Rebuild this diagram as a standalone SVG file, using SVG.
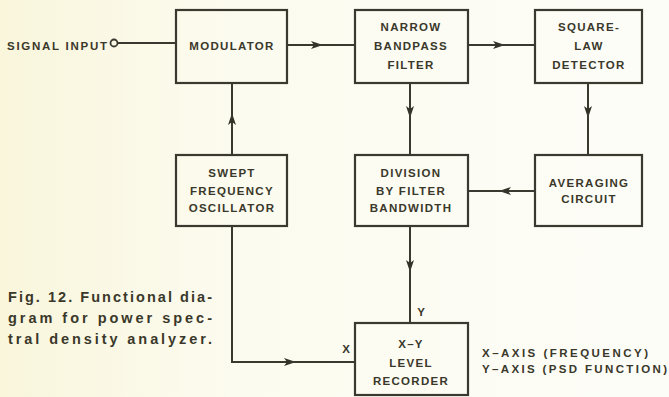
<svg xmlns="http://www.w3.org/2000/svg" width="669" height="397" viewBox="0 0 669 397">
<defs>
<linearGradient id="bg" x1="0" y1="0" x2="1" y2="0">
<stop offset="0" stop-color="#f9f6dc"/>
<stop offset="0.35" stop-color="#fcfbef"/>
<stop offset="1" stop-color="#fdfdf8"/>
</linearGradient>
<marker id="ah" viewBox="0 0 12 8" refX="10" refY="4" markerWidth="12" markerHeight="8" markerUnits="userSpaceOnUse" orient="auto">
<path d="M0,0 L12,4 L0,8 L3,4 Z" fill="#34332a"/>
</marker>
<style>
.box{fill:none;stroke:#3a392f;stroke-width:2.2}
.ln{fill:none;stroke:#3a392f;stroke-width:2}
.t{font-family:"Liberation Sans",Arial,sans-serif;font-weight:bold;font-size:11.5px;fill:#3a382a;text-anchor:middle;letter-spacing:1.3px}
.cap{font-family:"Liberation Sans",Arial,sans-serif;font-weight:bold;font-size:14.5px;fill:#3a382a}
.lab{font-family:"Liberation Sans",Arial,sans-serif;font-weight:bold;font-size:11.5px;fill:#3a382a}
</style>
</defs>
<rect width="669" height="397" fill="url(#bg)"/>

<g id="signal-input">
<text class="lab" x="7" y="50" textLength="100" lengthAdjust="spacing" fill="#4a4520">SIGNAL INPUT</text>
<circle cx="114" cy="43" r="3.5" fill="none" stroke="#3a392f" stroke-width="1.8"/>
</g>

<g id="modulator">
<rect class="box" x="176" y="10" width="111" height="73"/>
<text class="t" x="232" y="50">MODULATOR</text>
</g>

<g id="narrow-bandpass-filter">
<rect class="box" x="355" y="10" width="113" height="73"/>
<text class="t" x="411" y="31">NARROW</text>
<text class="t" x="411" y="50">BANDPASS</text>
<text class="t" x="411" y="69">FILTER</text>
</g>

<g id="square-law-detector">
<rect class="box" x="535" y="10" width="107" height="73"/>
<text class="t" x="589" y="31">SQUARE-</text>
<text class="t" x="589" y="50">LAW</text>
<text class="t" x="589" y="69">DETECTOR</text>
</g>

<g id="swept-frequency-oscillator">
<rect class="box" x="176" y="155" width="111" height="71"/>
<text class="t" x="232" y="177">SWEPT</text>
<text class="t" x="232" y="195">FREQUENCY</text>
<text class="t" x="232" y="212">OSCILLATOR</text>
</g>

<g id="division-by-filter-bandwidth">
<rect class="box" x="355" y="155" width="113" height="71"/>
<text class="t" x="411" y="177">DIVISION</text>
<text class="t" x="411" y="195">BY FILTER</text>
<text class="t" x="411" y="212">BANDWIDTH</text>
</g>

<g id="averaging-circuit">
<rect class="box" x="535" y="155" width="107" height="71"/>
<text class="t" x="589" y="187">AVERAGING</text>
<text class="t" x="589" y="203">CIRCUIT</text>
</g>

<g id="xy-level-recorder">
<rect class="box" x="355" y="323" width="113" height="72"/>
<text class="t" x="411" y="348">X–Y</text>
<text class="t" x="411" y="367">LEVEL</text>
<text class="t" x="411" y="385">RECORDER</text>
</g>

<g id="connectors">
<path class="ln" d="M118,43 H176"/>
<path class="ln" d="M287,45 L321,45" marker-end="url(#ah)"/>
<path class="ln" d="M318,45 H355"/>
<path class="ln" d="M468,45 L503,45" marker-end="url(#ah)"/>
<path class="ln" d="M500,45 H535"/>
<path class="ln" d="M232,155 L232,115" marker-end="url(#ah)"/>
<path class="ln" d="M232,118 V83"/>
<path class="ln" d="M410,83 L410,116" marker-end="url(#ah)"/>
<path class="ln" d="M410,113 V155"/>
<path class="ln" d="M588,83 L588,116" marker-end="url(#ah)"/>
<path class="ln" d="M588,113 V155"/>
<path class="ln" d="M535,191 L501,191" marker-end="url(#ah)"/>
<path class="ln" d="M504,191 H468"/>
<path class="ln" d="M410,226 L410,270" marker-end="url(#ah)"/>
<path class="ln" d="M410,267 V323"/>
<path class="ln" d="M232,226 V362 H294" marker-end="url(#ah)"/>
<path class="ln" d="M291,362 H355"/>
</g>

<g id="labels">
<text class="lab" x="421" y="316" text-anchor="middle">Y</text>
<text class="lab" x="346" y="353" text-anchor="middle">X</text>
<text class="lab" x="482" y="357" textLength="166" lengthAdjust="spacing">X–AXIS (FREQUENCY)</text>
<text class="lab" x="482" y="373" textLength="185" lengthAdjust="spacing">Y–AXIS (PSD FUNCTION)</text>
</g>

<g id="caption">
<text class="cap" x="8" y="302" textLength="204" lengthAdjust="spacing">Fig. 12. Functional dia-</text>
<text class="cap" x="8" y="323" textLength="204" lengthAdjust="spacing">gram for power spec-</text>
<text class="cap" x="8" y="344" textLength="204" lengthAdjust="spacing">tral density analyzer.</text>
</g>
</svg>
